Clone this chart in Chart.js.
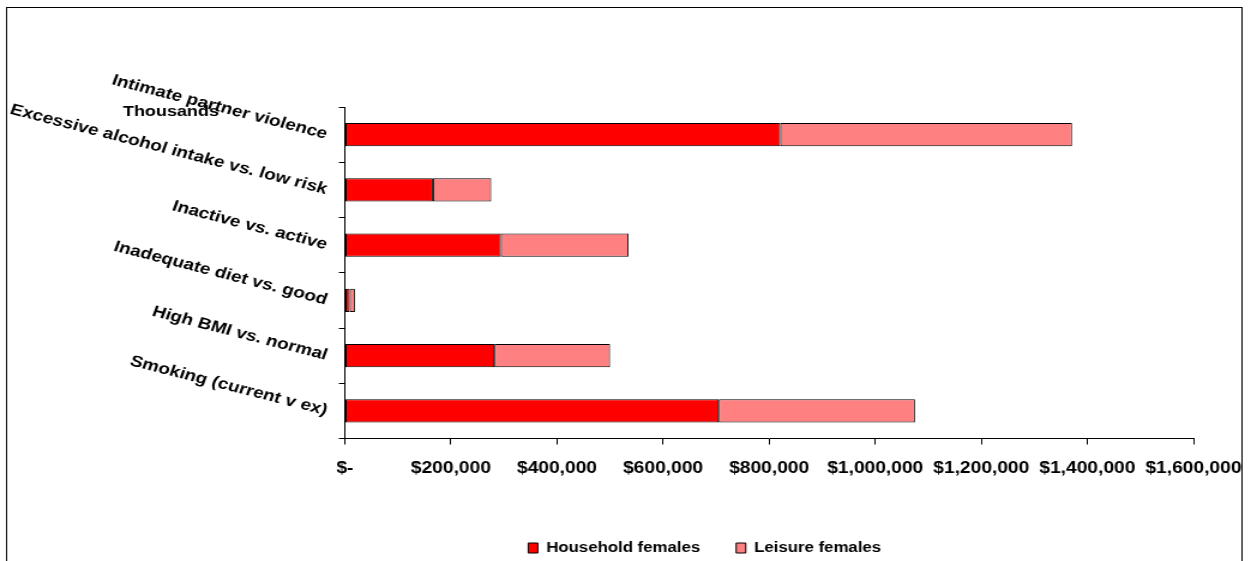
<!DOCTYPE html>
<html>
<head>
<meta charset="utf-8">
<script src="https://cdn.jsdelivr.net/npm/chart.js@4.4.1/dist/chart.umd.min.js"></script>
<style>
  html, body { margin: 0; padding: 0; background: #fff; overflow: hidden; }
</style>
</head>
<body>
<!-- drawn on a narrower canvas and widened by CSS (wide-font look) -->
<canvas id="costChart" width="1043" height="565" style="width:1251px;height:565px;display:block;"></canvas>
<script>
// --- Data ---
const categories = [
    'Intimate partner violence',
    'Excessive alcohol intake vs. low risk',
    'Inactive vs. active',
    'Inadequate diet vs. good',
    'High BMI vs. normal',
    'Smoking (current v ex)'
];
const householdFemales = [821000, 166000, 294000, 9000, 282000, 705000];
const leisureFemales = [550000, 110000, 241000, 10000, 218000, 370000];
const xMax = 1600000;
const xStep = 200000;

const fontFamily = '"Liberation Sans", Arial, sans-serif';

// frame around the whole chart + the "Thousands" unit label
const framePlugin = {
    id: 'frame',
    afterLayout(chart) {
        // legend sits a bit right of the canvas centre
        const shift = 90;
        chart.legend.left += shift;
        chart.legend.right += shift;
    },
    beforeDraw(chart) {
        const c = chart.ctx;
        c.save();
        c.fillStyle = '#fff';
        c.fillRect(0, 0, chart.width, chart.height);
        c.strokeStyle = '#000';
        c.lineWidth = 1;
        c.strokeRect(5.5, 7.5, 1030, 600);
        c.restore();
    },
    afterDraw(chart) {
        const c = chart.ctx;
        const area = chart.chartArea;
        c.save();
        c.font = 'bold 15px ' + fontFamily;
        c.fillStyle = '#000';
        c.textAlign = 'center';
        c.textBaseline = 'middle';
        c.fillText('Thousands', area.left - 145, area.top + 5);
        c.restore();
    }
};

const ctx = document.getElementById('costChart').getContext('2d');
const costChart = new Chart(ctx, {
    type: 'bar',
    data: {
        labels: categories,
        datasets: [{
            label: 'Household females',
            data: householdFemales,
            backgroundColor: '#FF0000',
            borderColor: '#000',
            borderWidth: 1,
            borderSkipped: false
        }, {
            label: 'Leisure females',
            data: leisureFemales,
            backgroundColor: '#FF8080',
            borderColor: '#000',
            borderWidth: 1,
            borderSkipped: false
        }]
    },
    options: {
        indexAxis: 'y',
        responsive: false,
        animation: false,
        categoryPercentage: 1,
        barPercentage: 0.42,
        layout: { padding: { top: 107, left: 0, right: 48, bottom: 0 } },
        plugins: {
            legend: {
                position: 'bottom',
                labels: {
                    color: '#000',
                    font: { family: fontFamily, size: 14, weight: 'bold' },
                    boxWidth: 8,
                    boxHeight: 10,
                    padding: 30
                }
            },
            tooltip: { enabled: false }
        },
        scales: {
            x: {
                stacked: true,
                min: 0,
                max: xMax,
                border: { color: '#000', width: 1 },
                grid: { drawOnChartArea: false, color: '#000', tickLength: 6 },
                ticks: {
                    stepSize: xStep,
                    color: '#000',
                    padding: 14,
                    maxRotation: 0,
                    font: { family: fontFamily, size: 16, weight: 'bold' },
                    callback: (v) => v === 0 ? '$-' : '$' + v.toLocaleString('en-US')
                },
                afterFit: (s) => {
                    s.height = 72.5;
                    // last label may run up to the frame edge
                    s.paddingRight = 0;
                }
            },
            y: {
                stacked: true,
                border: { color: '#000', width: 1 },
                grid: { drawOnChartArea: false, color: '#000', tickLength: 5 },
                ticks: {
                    color: '#000',
                    padding: 10,
                    minRotation: -17,
                    maxRotation: -17,
                    font: { family: fontFamily, size: 15.8, weight: 'bold' }
                },
                afterFit: (s) => { s.width = 287.5; }
            }
        }
    },
    plugins: [framePlugin]
});
</script>
</body>
</html>
